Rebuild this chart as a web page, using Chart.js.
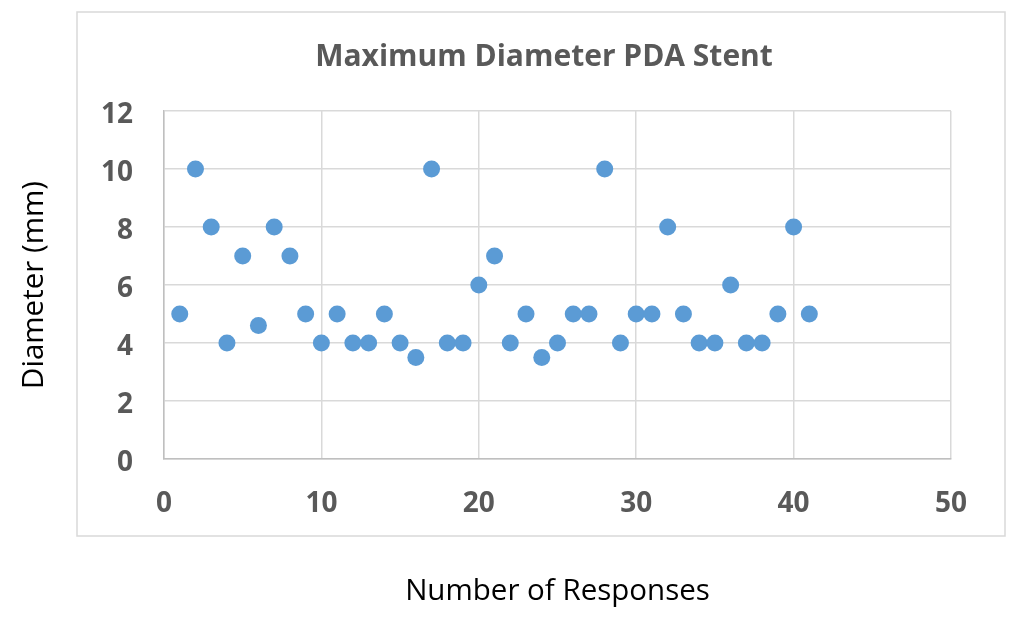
<!DOCTYPE html>
<html>
<head>
<meta charset="utf-8">
<title>Maximum Diameter PDA Stent</title>
<script src="https://cdn.jsdelivr.net/npm/chart.js@4.4.0/dist/chart.umd.min.js"></script>
<style>
    html, body { margin: 0; padding: 0; background: #fff; }
    #wrap { width: 1024px; height: 629px; position: relative; }
</style>
</head>
<body>
<div id="wrap"><canvas id="chart"></canvas></div>
<script>
// ── Data ──────────────────────────────────────────────────────────────────
const responses = [1, 2, 3, 4, 5, 6, 7, 8, 9, 10, 11, 12, 13, 14, 15, 16, 17, 18, 19, 20,
    21, 22, 23, 24, 25, 26, 27, 28, 29, 30, 31, 32, 33, 34, 35, 36, 37, 38, 39, 40, 41];
const diameters = [5, 10, 8, 4, 7, 4.6, 8, 7, 5, 4, 5, 4, 4, 5, 4, 3.5, 10, 4, 4, 6,
    7, 4, 5, 3.5, 4, 5, 5, 10, 4, 5, 5, 8, 5, 4, 4, 6, 4, 4, 5, 8, 5];
const xTicks = [0, 10, 20, 30, 40, 50];
const yTicks = [0, 2, 4, 6, 8, 10, 12];

const chartTitle = 'Maximum Diameter PDA Stent';
const xTitle = 'Number of Responses';
const yTitle = 'Diameter (mm)';

const points = responses.map(function (x, i) {
    return { x: x, y: diameters[i] };
});

// ── Outer frame + title (drawn like the Excel chart area) ────────────────
const framePlugin = {
    id: 'frame',
    beforeDraw: function (chart) {
        const ctx = chart.ctx;
        ctx.save();
        ctx.fillStyle = '#ffffff';
        ctx.fillRect(0, 0, chart.width, chart.height);
        ctx.strokeStyle = '#d9d9d9';
        ctx.lineWidth = 1.5;
        ctx.strokeRect(77, 12, 928, 524);
        ctx.restore();
    },
    afterDraw: function (chart) {
        const ctx = chart.ctx;
        ctx.save();
        ctx.font = 'bold 30px "Open Sans"';
        ctx.fillStyle = '#595959';
        ctx.textAlign = 'center';
        ctx.textBaseline = 'alphabetic';
        ctx.fillText(chartTitle, 544, 66);
        ctx.restore();
    },
};

const tickFont = { family: 'Open Sans', size: 28, weight: 'bold' };
const titleFont = { family: 'Open Sans', size: 29.5 };

new Chart(document.getElementById('chart'), {
    type: 'scatter',
    data: {
        datasets: [
            {
                label: yTitle,
                data: points,
                pointRadius: 8.5,
                pointHoverRadius: 8.5,
                pointBackgroundColor: '#5b9bd5',
                pointBorderColor: '#5b9bd5',
                pointBorderWidth: 0,
            },
        ],
    },
    options: {
        responsive: true,
        maintainAspectRatio: false,
        animation: false,
        layout: { padding: { top: 111, right: 73, bottom: 0, left: 0 } },
        plugins: {
            legend: { display: false },
            tooltip: { enabled: false },
        },
        scales: {
            x: {
                type: 'linear',
                min: 0,
                max: 50,
                afterFit: function (scale) { scale.height = 170; },
                afterBuildTicks: function (scale) {
                    scale.ticks = xTicks.map(function (v) { return { value: v }; });
                },
                ticks: { font: tickFont, color: '#595959', padding: 28 },
                grid: { color: '#d9d9d9', lineWidth: 1.5, drawTicks: false },
                border: { color: '#bfbfbf', width: 1.5 },
                title: {
                    display: true,
                    text: xTitle,
                    font: titleFont,
                    color: '#000000',
                    padding: { top: 0, bottom: 20 },
                },
            },
            y: {
                type: 'linear',
                min: 0,
                max: 12,
                afterFit: function (scale) { scale.width = 164; },
                afterBuildTicks: function (scale) {
                    scale.ticks = yTicks.map(function (v) { return { value: v }; });
                },
                ticks: { font: tickFont, color: '#595959', padding: 31, labelOffset: 4 },
                grid: { color: '#d9d9d9', lineWidth: 1.5, drawTicks: false },
                border: { color: '#bfbfbf', width: 1.5 },
                title: {
                    display: true,
                    text: yTitle,
                    font: titleFont,
                    color: '#000000',
                    padding: { top: 17, bottom: 0 },
                },
            },
        },
    },
    plugins: [framePlugin],
});
</script>
</body>
</html>
